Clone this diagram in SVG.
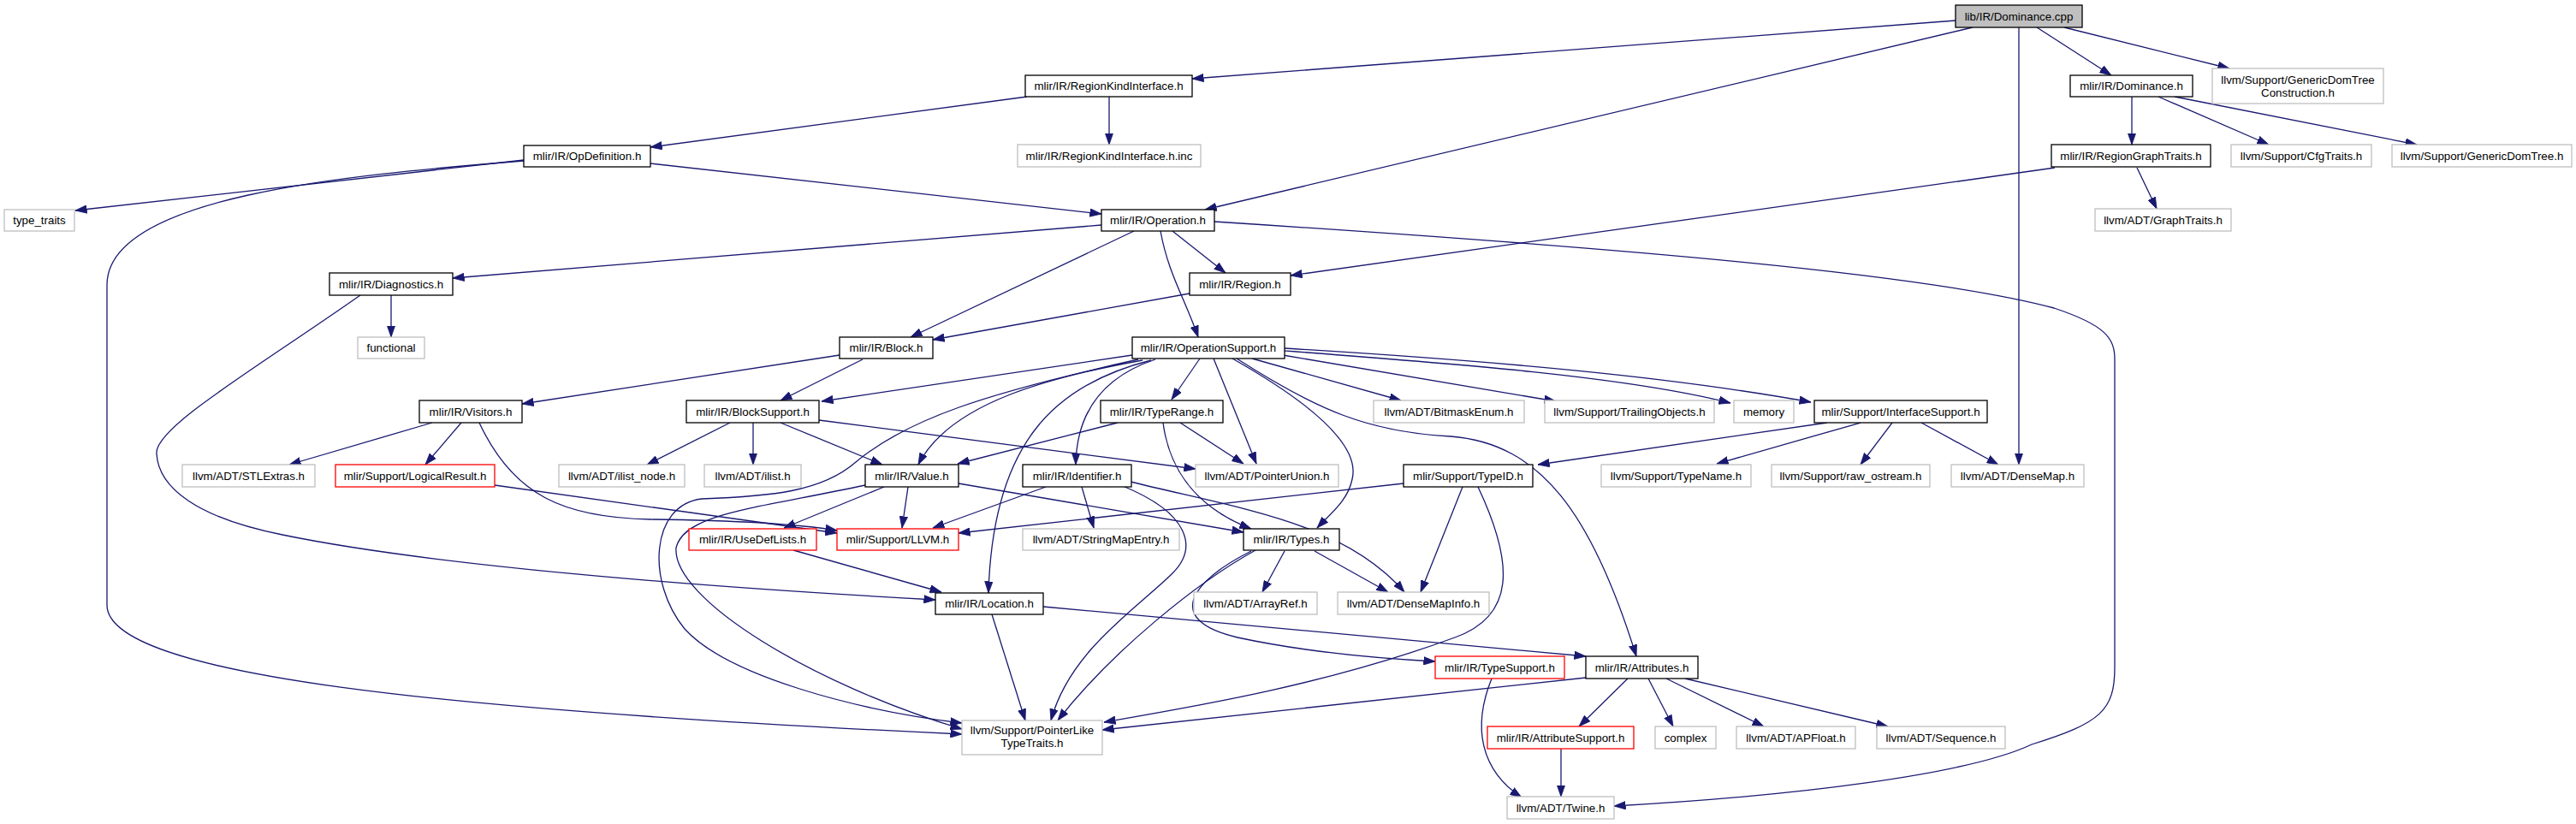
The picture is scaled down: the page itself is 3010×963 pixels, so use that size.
<svg xmlns="http://www.w3.org/2000/svg" width="3010" height="963" viewBox="0 0 3010 963">
<style>
.node rect{fill:#fff;stroke:#000;stroke-width:1.3}
.ext rect{stroke:#bfbfbf}
.trunc rect{stroke:#ff0000}
.root rect{fill:#bfbfbf}
.node text{font-family:"Liberation Sans",Arial,sans-serif;font-size:13.33px;text-anchor:middle;fill:#000}
#edges path{fill:none;stroke:#191970;stroke-width:1.3;marker-end:url(#ah)}
</style>
<defs>
<marker id="ah" markerUnits="userSpaceOnUse" markerWidth="14" markerHeight="10" viewBox="0 0 14 10" refX="13.5" refY="5" orient="auto">
<path d="M0,0.3 L13.5,5 L0,9.7 z" fill="#191970" stroke="#191970" stroke-width="0.8"/>
</marker>
</defs>
<rect width="3010" height="963" fill="#fff"/>
<g id="edges">
<path d="M2285,24 L1393,92"/>
<path d="M2305,32 L1408,245"/>
<path d="M2359,32 L2359,543"/>
<path d="M2380,32 L2467,88"/>
<path d="M2412,32 L2605,80"/>
<path d="M1200,113 L760,172"/>
<path d="M1296,113 L1296,169"/>
<path d="M612,187 L88,246"/>
<path d="M760,191 L1287,250"/>
<path d="M612,188 C400,205 125,230 125,333 L125,707 C125,790 520,830 1124,858"/>
<path d="M1287,263 L529,325"/>
<path d="M1325,270 L1064,394"/>
<path d="M1356,270 C1365,320 1385,350 1400,394"/>
<path d="M1370,270 L1432,319"/>
<path d="M1419,259 C1900,290 2250,320 2400,360 C2460,380 2471,395 2471,420 L2471,780 C2471,830 2455,845 2374,870 C2300,905 2100,930 1886,942"/>
<path d="M2401,196 L1508,322"/>
<path d="M2497,196 L2520,244"/>
<path d="M2491,113 L2491,169"/>
<path d="M2522,113 L2651,169"/>
<path d="M2541,113 L2824,169"/>
<path d="M1390,343 L1090,397"/>
<path d="M457,345 L457,394"/>
<path d="M421,345 C300,430 180,500 183,530 C185,570 230,605 330,625 C500,660 800,685 1093,701"/>
<path d="M981,415 L610,472"/>
<path d="M1008,420 L912,468"/>
<path d="M505,494 L338,543"/>
<path d="M539,494 L497,543"/>
<path d="M560,494 C600,580 660,605 760,607 C850,608 930,612 978,620"/>
<path d="M578,567 L978,623"/>
<path d="M853,494 L756,543"/>
<path d="M880,494 L880,543"/>
<path d="M912,494 L1031,543"/>
<path d="M957,491 L1397,548"/>
<path d="M1323,415 L960,469"/>
<path d="M1335,421 C1230,440 1110,470 1073,543"/>
<path d="M1330,420 C1150,460 1060,490 1000,540 C960,575 900,580 820,583 C760,590 755,680 800,735 C850,790 1000,830 1124,845"/>
<path d="M1011,567 C880,595 800,600 790,640 C785,700 950,800 1124,852"/>
<path d="M1345,421 C1230,450 1160,520 1155,693"/>
<path d="M1350,420 C1290,440 1258,480 1257,543"/>
<path d="M1402,419 L1369,467"/>
<path d="M1418,419 L1468,542"/>
<path d="M1440,419 C1530,470 1590,520 1580,560 C1575,585 1555,600 1539,617"/>
<path d="M1445,419 C1540,480 1600,505 1695,510 C1800,518 1860,600 1912,767"/>
<path d="M1463,419 L1637,468"/>
<path d="M1499,415 L1818,469"/>
<path d="M1501,410 C1700,425 1900,440 2022,471"/>
<path d="M1501,407 C1750,422 1950,440 2116,470"/>
<path d="M1306,494 L1119,542"/>
<path d="M1379,494 L1453,542"/>
<path d="M1359,494 C1365,540 1390,590 1462,618"/>
<path d="M1033,569 L916,617"/>
<path d="M1061,569 L1054,617"/>
<path d="M1120,565 L1453,622"/>
<path d="M1222,569 L1090,617"/>
<path d="M1264,569 L1278,617"/>
<path d="M1321,563 C1450,595 1570,610 1641,692"/>
<path d="M1312,568 C1390,600 1400,640 1370,670 C1330,710 1250,760 1228,842"/>
<path d="M1640,565 L1120,623"/>
<path d="M1709,569 L1660,692"/>
<path d="M1727,569 C1770,660 1770,720 1700,745 C1550,800 1400,825 1290,844"/>
<path d="M1501,644 L1475,692"/>
<path d="M1536,644 L1622,692"/>
<path d="M1467,643 C1400,680 1300,760 1236,842"/>
<path d="M1462,644 C1390,680 1360,725 1446,745 C1530,763 1620,770 1677,773"/>
<path d="M927,643 L1100,692"/>
<path d="M1159,718 L1198,842"/>
<path d="M1219,709 L1853,767"/>
<path d="M1743,793 C1720,850 1730,900 1778,932"/>
<path d="M1853,792 L1288,853"/>
<path d="M1902,793 L1845,849"/>
<path d="M1926,793 L1955,849"/>
<path d="M1947,793 L2061,849"/>
<path d="M1969,793 L2206,849"/>
<path d="M1824,875 L1824,931"/>
<path d="M2135,494 L1797,543"/>
<path d="M2174,494 L2006,542"/>
<path d="M2211,494 L2174,543"/>
<path d="M2245,494 L2335,543"/>
</g>
<g id="n_dcpp" class="node root"><rect x="2285" y="6" width="148" height="26"/><text x="2359" y="23.5">lib/IR/Dominance.cpp</text></g>
<g id="n_rki" class="node"><rect x="1198" y="88" width="195" height="25"/><text x="1295.5" y="105">mlir/IR/RegionKindInterface.h</text></g>
<g id="n_rkiinc" class="node ext"><rect x="1189" y="169" width="214" height="26"/><text x="1296" y="186.5">mlir/IR/RegionKindInterface.h.inc</text></g>
<g id="n_opdef" class="node"><rect x="612" y="170" width="148" height="25"/><text x="686" y="187">mlir/IR/OpDefinition.h</text></g>
<g id="n_tt" class="node ext"><rect x="5" y="245" width="82" height="25"/><text x="46" y="262">type_traits</text></g>
<g id="n_oper" class="node"><rect x="1287" y="245" width="132" height="25"/><text x="1353" y="262">mlir/IR/Operation.h</text></g>
<g id="n_domh" class="node"><rect x="2419" y="88" width="143" height="25"/><text x="2490.5" y="105">mlir/IR/Dominance.h</text></g>
<g id="n_gdtc" class="node ext"><rect x="2585" y="80" width="200" height="41"/><text x="2685" y="98">llvm/Support/GenericDomTree</text><text x="2685" y="113">Construction.h</text></g>
<g id="n_rgt" class="node"><rect x="2397" y="169" width="186" height="26"/><text x="2490" y="186.5">mlir/IR/RegionGraphTraits.h</text></g>
<g id="n_cfg" class="node ext"><rect x="2607" y="169" width="164" height="26"/><text x="2689" y="186.5">llvm/Support/CfgTraits.h</text></g>
<g id="n_gdt" class="node ext"><rect x="2795" y="169" width="210" height="26"/><text x="2900" y="186.5">llvm/Support/GenericDomTree.h</text></g>
<g id="n_gt" class="node ext"><rect x="2448" y="244" width="159" height="26"/><text x="2527.5" y="261.5">llvm/ADT/GraphTraits.h</text></g>
<g id="n_diag" class="node"><rect x="385" y="319" width="144" height="26"/><text x="457" y="336.5">mlir/IR/Diagnostics.h</text></g>
<g id="n_region" class="node"><rect x="1390" y="319" width="118" height="26"/><text x="1449" y="336.5">mlir/IR/Region.h</text></g>
<g id="n_func" class="node ext"><rect x="418" y="394" width="78" height="25"/><text x="457" y="411">functional</text></g>
<g id="n_block" class="node"><rect x="981" y="394" width="109" height="25"/><text x="1035.5" y="411">mlir/IR/Block.h</text></g>
<g id="n_opsup" class="node"><rect x="1323" y="394" width="178" height="25"/><text x="1412" y="411">mlir/IR/OperationSupport.h</text></g>
<g id="n_visitors" class="node"><rect x="490" y="468" width="120" height="26"/><text x="550" y="485.5">mlir/IR/Visitors.h</text></g>
<g id="n_blocksup" class="node"><rect x="802" y="468" width="155" height="26"/><text x="879.5" y="485.5">mlir/IR/BlockSupport.h</text></g>
<g id="n_typerange" class="node"><rect x="1286" y="468" width="143" height="26"/><text x="1357.5" y="485.5">mlir/IR/TypeRange.h</text></g>
<g id="n_bitmask" class="node ext"><rect x="1605" y="468" width="176" height="26"/><text x="1693" y="485.5">llvm/ADT/BitmaskEnum.h</text></g>
<g id="n_trailing" class="node ext"><rect x="1805" y="468" width="198" height="26"/><text x="1904" y="485.5">llvm/Support/TrailingObjects.h</text></g>
<g id="n_memory" class="node ext"><rect x="2026" y="468" width="70" height="26"/><text x="2061" y="485.5">memory</text></g>
<g id="n_ifsup" class="node"><rect x="2120" y="468" width="202" height="26"/><text x="2221" y="485.5">mlir/Support/InterfaceSupport.h</text></g>
<g id="n_stl" class="node ext"><rect x="213" y="543" width="155" height="26"/><text x="290.5" y="560.5">llvm/ADT/STLExtras.h</text></g>
<g id="n_logres" class="node trunc"><rect x="392" y="543" width="186" height="26"/><text x="485" y="560.5">mlir/Support/LogicalResult.h</text></g>
<g id="n_ilistnode" class="node ext"><rect x="653" y="543" width="147" height="26"/><text x="726.5" y="560.5">llvm/ADT/ilist_node.h</text></g>
<g id="n_ilist" class="node ext"><rect x="823" y="543" width="113" height="26"/><text x="879.5" y="560.5">llvm/ADT/ilist.h</text></g>
<g id="n_value" class="node"><rect x="1011" y="543" width="109" height="26"/><text x="1065.5" y="560.5">mlir/IR/Value.h</text></g>
<g id="n_ident" class="node"><rect x="1195" y="543" width="127" height="26"/><text x="1258.5" y="560.5">mlir/IR/Identifier.h</text></g>
<g id="n_ptrunion" class="node ext"><rect x="1397" y="543" width="167" height="26"/><text x="1480.5" y="560.5">llvm/ADT/PointerUnion.h</text></g>
<g id="n_typeid" class="node"><rect x="1640" y="543" width="151" height="26"/><text x="1715.5" y="560.5">mlir/Support/TypeID.h</text></g>
<g id="n_typename" class="node ext"><rect x="1871" y="543" width="175" height="26"/><text x="1958.5" y="560.5">llvm/Support/TypeName.h</text></g>
<g id="n_rawos" class="node ext"><rect x="2070" y="543" width="185" height="26"/><text x="2162.5" y="560.5">llvm/Support/raw_ostream.h</text></g>
<g id="n_densemap" class="node ext"><rect x="2280" y="543" width="155" height="26"/><text x="2357.5" y="560.5">llvm/ADT/DenseMap.h</text></g>
<g id="n_usedef" class="node trunc"><rect x="805" y="618" width="149" height="25"/><text x="879.5" y="635">mlir/IR/UseDefLists.h</text></g>
<g id="n_llvmh" class="node trunc"><rect x="978" y="618" width="142" height="25"/><text x="1049" y="635">mlir/Support/LLVM.h</text></g>
<g id="n_smentry" class="node ext"><rect x="1195" y="618" width="183" height="25"/><text x="1286.5" y="635">llvm/ADT/StringMapEntry.h</text></g>
<g id="n_types" class="node"><rect x="1453" y="618" width="112" height="25"/><text x="1509" y="635">mlir/IR/Types.h</text></g>
<g id="n_loc" class="node"><rect x="1093" y="693" width="126" height="25"/><text x="1156" y="710">mlir/IR/Location.h</text></g>
<g id="n_arrayref" class="node ext"><rect x="1395" y="692" width="144" height="26"/><text x="1467" y="709.5">llvm/ADT/ArrayRef.h</text></g>
<g id="n_dmi" class="node ext"><rect x="1563" y="692" width="177" height="26"/><text x="1651.5" y="709.5">llvm/ADT/DenseMapInfo.h</text></g>
<g id="n_typesup" class="node trunc"><rect x="1677" y="767" width="151" height="26"/><text x="1752.5" y="784.5">mlir/IR/TypeSupport.h</text></g>
<g id="n_attrs" class="node"><rect x="1853" y="767" width="131" height="26"/><text x="1918.5" y="784.5">mlir/IR/Attributes.h</text></g>
<g id="n_plt" class="node ext"><rect x="1124" y="842" width="164" height="40"/><text x="1206" y="858">llvm/Support/PointerLike</text><text x="1206" y="873">TypeTraits.h</text></g>
<g id="n_attrsup" class="node trunc"><rect x="1738" y="849" width="171" height="26"/><text x="1823.5" y="866.5">mlir/IR/AttributeSupport.h</text></g>
<g id="n_complex" class="node ext"><rect x="1934" y="849" width="71" height="26"/><text x="1969.5" y="866.5">complex</text></g>
<g id="n_apfloat" class="node ext"><rect x="2029" y="849" width="139" height="26"/><text x="2098.5" y="866.5">llvm/ADT/APFloat.h</text></g>
<g id="n_sequence" class="node ext"><rect x="2193" y="849" width="150" height="26"/><text x="2268" y="866.5">llvm/ADT/Sequence.h</text></g>
<g id="n_twine" class="node ext"><rect x="1761" y="931" width="125" height="26"/><text x="1823.5" y="948.5">llvm/ADT/Twine.h</text></g>
</svg>
